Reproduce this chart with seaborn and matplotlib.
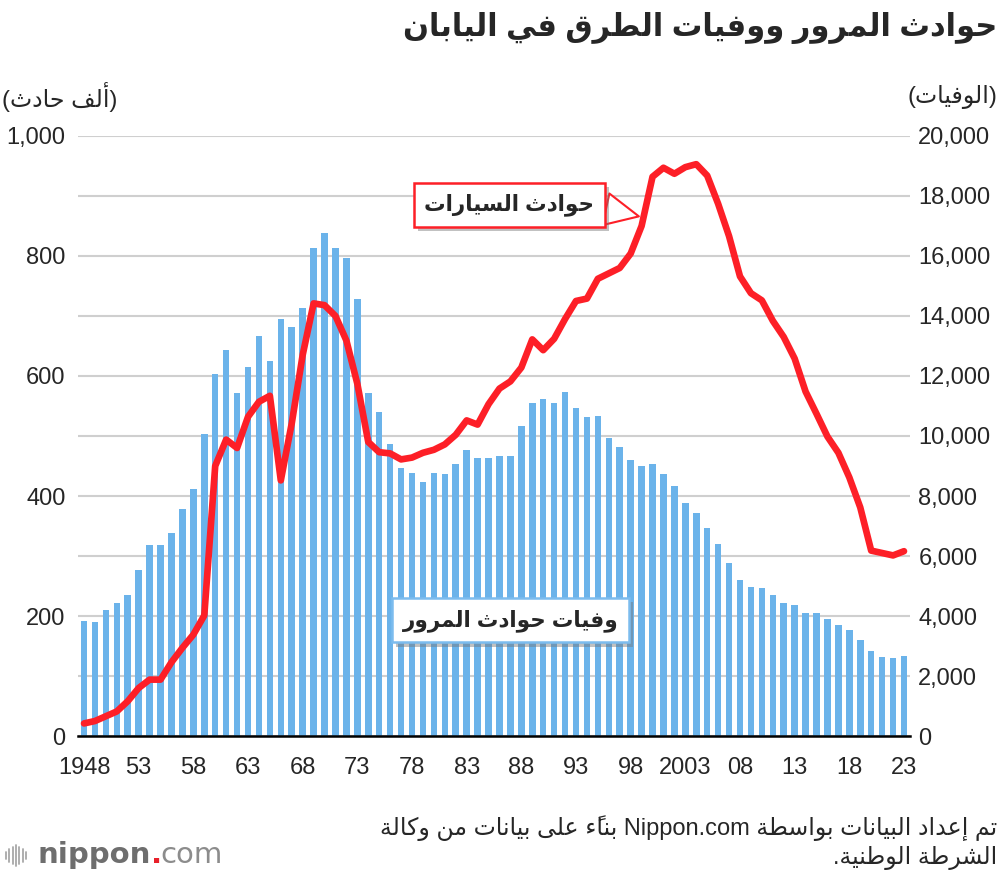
import re
import numpy as np
import matplotlib
matplotlib.use("Agg")
import matplotlib.pyplot as plt
import matplotlib.patheffects as pe
from matplotlib.lines import Line2D
import seaborn as sns

# DATOS

years = list(range(1948, 2024))

# muertes por accidentes de tráfico (eje derecho)
deaths = [
    3848, 3790, 4202, 4429, 4696, 5544, 6374, 6379, 6751, 7575,
    8248, 10079, 12055, 12865, 11445, 12301, 13318, 12484, 13904, 13618,
    14256, 16257, 16765, 16278, 15918, 14574, 11432, 10792, 9734, 8945,
    8783, 8466, 8760, 8719, 9073, 9520, 9262, 9261, 9317, 9347,
    10344, 11086, 11227, 11109, 11451, 10942, 10649, 10679, 9942, 9640,
    9211, 9006, 9073, 8747, 8326, 7768, 7425, 6927, 6415, 5782,
    5209, 4968, 4948, 4691, 4438, 4373, 4113, 4117, 3904, 3694,
    3532, 3215, 2839, 2636, 2610, 2678,
]

# accidentes de tráfico, miles (eje izquierdo)
accidents = [
    21, 25, 33, 41, 58, 80, 94, 94, 123, 147,
    169, 201, 450, 494, 480, 532, 557, 567, 426, 521,
    635, 721, 718, 700, 659, 587, 490, 473, 471, 461,
    464, 472, 477, 486, 502, 526, 519, 553, 579, 591,
    614, 661, 643, 662, 695, 725, 729, 762, 771, 780,
    804, 850, 932, 947, 937, 948, 953, 934, 887, 833,
    766, 738, 726, 692, 665, 629, 574, 537, 499, 472,
    431, 381, 309, 305, 301, 308,
]

xtick_years = years[::5]
xtick_labels = ["1948", "53", "58", "63", "68", "73", "78", "83",
                "88", "93", "98", "2003", "08", "13", "18", "23"]

title = "حوادث المرور ووفيات الطرق في اليابان"
left_unit = "(ألف حادث)"
right_unit = "(الوفيات)"
label_accidents = "حوادث السيارات"
label_deaths = "وفيات حوادث المرور"
source_1 = "تم إعداد البيانات بواسطة Nippon.com بناءً على بيانات من وكالة"
source_2 = "الشرطة الوطنية."

BAR_BLUE = "#6bb3ea"
LINE_RED = "#fd1f27"

# FORMAS ÁRABES (matplotlib no une letras ni invierte el orden)

AR_FORMS = {}
_code = 0xFE80
_right_only = (0x622, 0x623, 0x624, 0x625, 0x627, 0x629, 0x62F,
               0x630, 0x631, 0x632, 0x648, 0x649)
for _c in list(range(0x621, 0x63B)) + list(range(0x641, 0x64B)):
    _n = 1 if _c == 0x621 else (2 if _c in _right_only else 4)
    AR_FORMS[chr(_c)] = [chr(_code + i) for i in range(_n)]
    _code += _n


def is_mark(ch):
    return 0x64B <= ord(ch) <= 0x652


def ar(text):
    chars = list(text)

    def neighbour(i, step):
        j = i + step
        while 0 <= j < len(chars) and is_mark(chars[j]):
            j += step
        return chars[j] if 0 <= j < len(chars) else None

    shaped = []
    for i, ch in enumerate(chars):
        if ch not in AR_FORMS:
            shaped.append(ch)
            continue
        f = AR_FORMS[ch]
        p, n = neighbour(i, -1), neighbour(i, 1)
        join_prev = p in AR_FORMS and len(AR_FORMS[p]) == 4 and len(f) > 1
        join_next = len(f) == 4 and n in AR_FORMS and len(AR_FORMS[n]) > 1
        if join_prev and join_next:
            shaped.append(f[3])
        elif join_prev:
            shaped.append(f[1])
        elif join_next:
            shaped.append(f[2])
        else:
            shaped.append(f[0])

    clusters = []
    for ch in shaped:
        if is_mark(ch) and clusters:
            clusters[-1] += ch
        else:
            clusters.append(ch)
    vis = "".join(reversed(clusters)).translate(str.maketrans("()", ")("))
    return re.sub(r"[A-Za-z0-9][A-Za-z0-9.]*[A-Za-z0-9]",
                  lambda m: m.group(0)[::-1], vis)


# ESTILO

sns.set_style("white")
plt.rcParams["font.family"] = ["Liberation Sans", "DejaVu Sans"]

fig = plt.figure(figsize=(10, 8.8), dpi=100)
ax = fig.add_axes([0.078, 0.1636, 0.832, 0.6819])
ax_bar = ax.twinx()

# barras (muertes) debajo, línea (accidentes) encima
ax.set_zorder(ax_bar.get_zorder() + 1)
ax.patch.set_visible(False)

sns.barplot(x=years, y=deaths, ax=ax_bar, native_scale=True,
            color=BAR_BLUE, width=0.6, saturation=1, edgecolor="none")

sns.lineplot(x=years, y=accidents, ax=ax, color=LINE_RED, linewidth=4.8,
             solid_joinstyle="round", solid_capstyle="round")

# EJES

ax.set_xlim(1947.45, 2023.55)
ax.set_ylim(0, 1000)
ax_bar.set_ylim(0, 20000)

ax.set_yticks(range(0, 1001, 200))
ax.set_yticklabels([f"{v:,}" for v in range(0, 1001, 200)])
ax.yaxis.tick_left()
ax_bar.yaxis.tick_right()
ax_bar.set_yticks(range(0, 20001, 2000))
ax_bar.set_yticklabels([f"{v:,}" for v in range(0, 20001, 2000)])
ax_bar.grid(True, axis="y", color="#cfcfcf", linewidth=1.5)
ax_bar.set_axisbelow(True)

ax.set_xticks(xtick_years)
ax.set_xticklabels(xtick_labels)
ax.set_xlabel("")
ax.set_ylabel("")
ax_bar.set_ylabel("")

ax.tick_params(axis="y", length=0, pad=9, labelsize=17)
ax.tick_params(axis="x", length=0, pad=15, labelsize=17)
ax_bar.tick_params(axis="y", length=0, pad=6, labelsize=17)

for s in ["top", "left", "right"]:
    ax.spines[s].set_visible(False)
ax.spines["bottom"].set_color("black")
ax.spines["bottom"].set_linewidth(1.8)
for s in ax_bar.spines.values():
    s.set_visible(False)

# ETIQUETAS

shadow = [pe.SimplePatchShadow(offset=(3, -3), shadow_rgbFace="#777777", alpha=0.45),
          pe.Normal()]

t1 = ax.annotate(
    ar(label_accidents), xy=(1998.75, 866), xytext=(1986.9, 885),
    ha="center", va="center", fontsize=15.5, fontweight="bold", zorder=10,
    bbox=dict(boxstyle="square,pad=0.5", fc="white", ec=LINE_RED, lw=1.8),
    arrowprops=dict(arrowstyle="wedge,tail_width=1.5", fc="white",
                    ec=LINE_RED, lw=1.5, relpos=(1, 0.42), shrinkA=0, shrinkB=0),
)
t1.get_bbox_patch().set_path_effects(shadow)

t2 = ax.text(1987.0, 193, ar(label_deaths), ha="center", va="center",
             fontsize=15.5, fontweight="bold", zorder=10,
             bbox=dict(boxstyle="square,pad=0.5", fc="white", ec="#7cbcee", lw=1.8))
t2.get_bbox_patch().set_path_effects(shadow)

# TEXTOS DE LA FIGURA

fig.text(0.997, 0.968, ar(title), ha="right", va="center",
         fontsize=22, fontweight="bold")
fig.text(0.002, 0.890, ar(left_unit), ha="left", va="center", fontsize=17)
fig.text(0.997, 0.890, ar(right_unit), ha="right", va="center", fontsize=17)

fig.text(0.997, 0.059, ar(source_1), ha="right", va="center", fontsize=17)
fig.text(0.997, 0.025, ar(source_2), ha="right", va="center", fontsize=17)

# logo nippon.com
for i, h in enumerate([0.008, 0.014, 0.02, 0.024, 0.02, 0.014, 0.008]):
    x = 0.006 + i * 0.0033
    fig.add_artist(Line2D([x, x], [0.028 - h / 2, 0.028 + h / 2],
                          color="#a8a8a8", linewidth=1.3))
fig.text(0.037, 0.028, "nippon", ha="left", va="center", fontsize=21,
         fontweight="bold", color="#6e6e6e", family="DejaVu Sans")
fig.text(0.1505, 0.028, ".", ha="left", va="center", fontsize=21,
         fontweight="bold", color="#e8202a", family="DejaVu Sans")
fig.text(0.1605, 0.028, "com", ha="left", va="center", fontsize=21,
         color="#8c8c8c", family="DejaVu Sans")

plt.savefig("out.png", dpi=100)
